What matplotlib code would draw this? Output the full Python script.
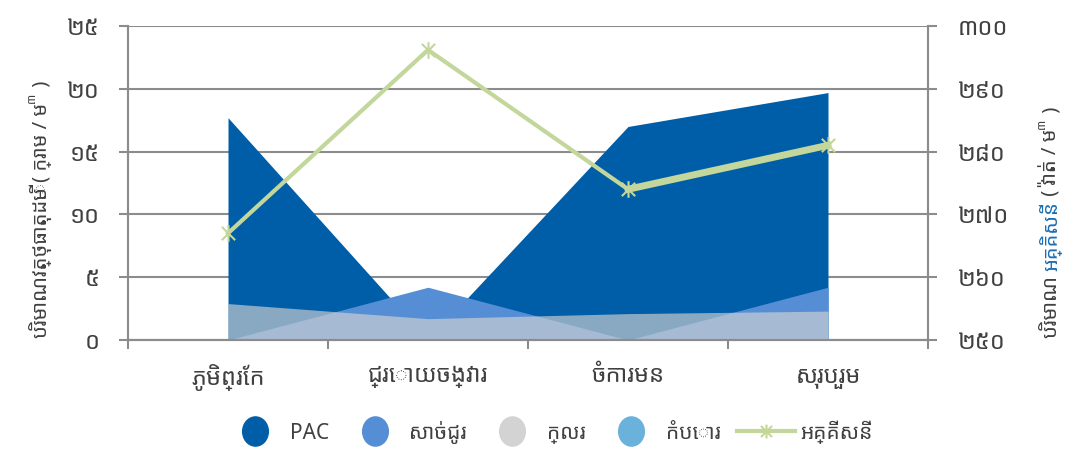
import matplotlib
matplotlib.use("Agg")
import matplotlib.pyplot as plt
from matplotlib.lines import Line2D
from matplotlib.path import Path
from matplotlib.transforms import Affine2D

# fonts: Khmer first, DejaVu for anything it lacks
plt.rcParams["font.family"] = ["Noto Sans Khmer", "DejaVu Sans"]

# ---- data ----
sites = ["ភូមិព្រែក", "ជ្រោយចង្វារ", "ចំការមន", "សរុបរួម"]
pac = [17.7, 0.0, 17.0, 19.7]
alum = [0.0, 4.2, 0.0, 4.2]
chlorine = [2.9, 1.7, 2.1, 2.3]
lime = [0.0, 0.0, 0.0, 0.0]
power = [267.0, 296.2, 274.0, 281.0]

left_ticks = [0, 5, 10, 15, 20, 25]
left_labels = ["០", "៥", "១០", "១៥", "២០", "២៥"]
right_ticks = [250, 260, 270, 280, 290, 300]
right_labels = ["២៥០", "២៦០", "២៧០", "២៨០", "២៩០", "៣០០"]

names = ["PAC", "សាច់ជូរ", "ក្លរ", "កំបោរ", "អគ្គីសនី"]

# colours
PAC_C = "#005ea8"
ALUM_C = "#558ed5"
CL_C = "#d3d3d3"
LIME_C = "#6ab2dc"
LINE_C = "#c3d69b"
GRID_C = "#8c8c8c"
TEXT_C = "#404040"
BLUE_TXT = "#1a6fb5"

TICK_FS = 17
LABEL_FS = 14.5
LEGEND_FS = 15

# Excel-like star marker: an x with a vertical bar through it
STAR = Path(
    [(-1, -1), (1, 1), (-1, 1), (1, -1), (0, -1.25), (0, 1.25)],
    [Path.MOVETO, Path.LINETO] * 3,
)
# slightly narrow ellipse for the legend blobs
BLOB = Path.unit_circle().transformed(Affine2D().scale(0.88, 1.0))

W, H = 1082, 457
fig = plt.figure(figsize=(W / 100, H / 100), dpi=100, facecolor="white")
ax = fig.add_axes([128 / W, 1 - 340 / H, 800 / W, 314 / H])
ax2 = ax.twinx()

x = list(range(len(sites)))

# ---- areas (overlapping, not stacked) ----
ax.fill_between(x, lime, color=LIME_C, linewidth=0)
ax.fill_between(x, pac, color=PAC_C, linewidth=0)
ax.fill_between(x, alum, color=ALUM_C, linewidth=0)
ax.fill_between(x, chlorine, color=CL_C, alpha=0.65, linewidth=0)

ax.set_xlim(-0.5, len(sites) - 0.5)
ax.set_ylim(0, 25)
ax.set_yticks(left_ticks)
ax.set_yticklabels(left_labels)
ax.grid(axis="y", color=GRID_C, linewidth=1.5)
ax.set_axisbelow(True)

# category ticks between the groups, labels in the middle
ax.set_xticks([i - 0.5 for i in range(len(sites) + 1)])
ax.set_xticklabels([])
ax.set_xticks(x, minor=True)
ax.set_xticklabels(sites, minor=True)
ax.tick_params(axis="x", which="major", length=6.5, width=1.5, color=GRID_C)
ax.tick_params(axis="x", which="minor", length=0, pad=17,
               labelsize=TICK_FS, labelcolor=TEXT_C)
ax.tick_params(axis="y", length=6.5, width=1.5, color=GRID_C,
               labelsize=TICK_FS, labelcolor=TEXT_C, pad=14)

for a in (ax, ax2):
    a.spines["top"].set_visible(False)
    for s in ("left", "right", "bottom"):
        a.spines[s].set_color(GRID_C)
        a.spines[s].set_linewidth(1.5)

# ---- electricity line on the right axis ----
ax2.plot(x, power, color=LINE_C, linewidth=3, marker=STAR, markersize=12,
         markeredgewidth=1.5, markeredgecolor=LINE_C, zorder=3)
ax2.plot(x[2:], power[2:], color=LINE_C, linewidth=5, zorder=3)
ax2.set_ylim(250, 300)
ax2.set_yticks(right_ticks)
ax2.set_yticklabels(right_labels)
ax2.tick_params(axis="y", length=6.5, width=1.5, color=GRID_C,
                labelsize=TICK_FS, labelcolor=TEXT_C, pad=15)


def rotated_label(x_px, y_px, parts, size=LABEL_FS):
    """Vertical label built from pieces of different colour / size."""
    fig.canvas.draw()
    r = fig.canvas.get_renderer()
    y = y_px
    for text, color, scale, raise_px in parts:
        t = fig.text((x_px - raise_px) / W, y / H, text, rotation=90,
                     rotation_mode="anchor", ha="left", va="baseline",
                     color=color, fontsize=size * scale)
        bb = t.get_window_extent(r)
        y += bb.height


rotated_label(47, H - 338, [
    ("បរិមាណវត្ថុធាតុដើម ( ក្រាម / ម", TEXT_C, 1.0, 0),
    ("៣", TEXT_C, 0.6, 12),
    (" )", TEXT_C, 1.0, 0),
])
rotated_label(1057, H - 338, [
    ("បរិមាណ ", TEXT_C, 1.0, 0),
    ("អគ្គិសនី", BLUE_TXT, 1.0, 0),
    (" ( វ៉ាត់ / ម", TEXT_C, 1.0, 0),
    ("៣", TEXT_C, 0.6, 12),
    (" )", TEXT_C, 1.0, 0),
])

# ---- legend ----
handles = [
    Line2D([], [], linestyle="none", marker=BLOB, markersize=21,
           markerfacecolor=c, markeredgecolor=c)
    for c in (PAC_C, ALUM_C, CL_C, LIME_C)
]
handles.append(Line2D([], [], color=LINE_C, linewidth=3, marker=STAR,
                      markersize=10, markeredgewidth=1.5))
fig.legend(handles, names, loc="center", bbox_to_anchor=(0.508, 0.055),
           ncol=5, frameon=False, fontsize=LEGEND_FS, handlelength=2.8,
           handletextpad=0.25, columnspacing=0.8, labelcolor=TEXT_C)

fig.savefig("out.png", dpi=100, facecolor="white")
